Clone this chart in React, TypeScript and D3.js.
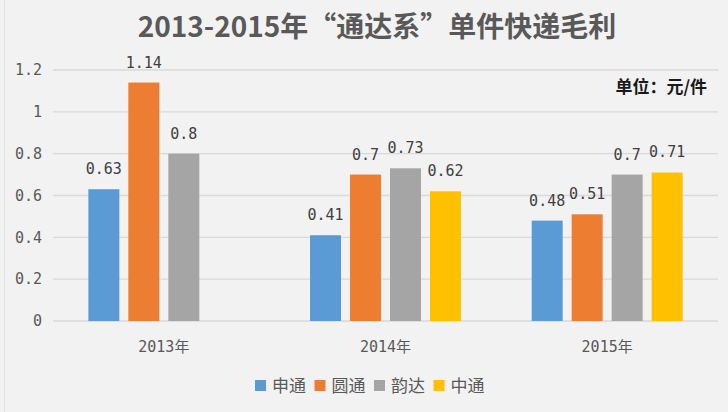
import React from "react";
import * as d3 from "d3";

const categories = ["2013年", "2014年", "2015年"];
const seriesNames = ["申通", "圆通", "韵达", "中通"];
const seriesColors = ["#5b9bd5", "#ed7d31", "#a5a5a5", "#ffc000"];
const shentong = [0.63, 0.41, 0.48];
const yuantong = [1.14, 0.7, 0.51];
const yunda = [0.8, 0.73, 0.7];
const zhongtong = [null, 0.62, 0.71];
const yTicks = [0, 0.2, 0.4, 0.6, 0.8, 1, 1.2];
const titleText = "2013-2015年“通达系”单件快递毛利";
const unitText = "单位：元/件";

const seriesValues = [shentong, yuantong, yunda, zhongtong];

const W = 728;
const H = 412;
const monoFont = "'DejaVu Sans Mono', 'Noto Sans CJK SC', monospace";
const cjkFont = "'Noto Sans CJK SC', 'Noto Sans', sans-serif";

export default function App() {
  const x0 = d3.scaleBand<string>().domain(categories).range([53, 718]).paddingInner(0).paddingOuter(0);
  const groupW = x0.bandwidth() * 0.681;
  const x1 = d3.scaleBand<string>().domain(seriesNames).range([-groupW / 2, groupW / 2]).paddingInner(0.225).paddingOuter(0);
  const y = d3.scaleLinear().domain([0, 1.2]).range([321, 70]);
  const fmt = (v: number) => String(v);

  return (
    <svg width={W} height={H} style={{ position: "absolute", left: 0, top: 0 }} xmlns="http://www.w3.org/2000/svg">
      <rect x={0} y={0} width={W} height={H} fill="#f2f2f2" />
      <line x1={4.5} x2={4.5} y1={0} y2={H} stroke="#e2e2e2" strokeWidth={1} />
      <text x={377} y={37} textAnchor="middle" fontFamily={cjkFont} fontWeight="bold" fontSize={28} fill="#595959">
        {titleText}
      </text>
      {yTicks.map((t) => (
        <g key={t}>
          <line x1={53} x2={718} y1={y(t)} y2={y(t)} stroke="#d9d9d9" strokeWidth={1.3} />
          <text x={42} y={y(t)} dy="0.35em" textAnchor="end" fontFamily={monoFont} fontSize={15} fill="#595959">
            {fmt(t)}
          </text>
        </g>
      ))}
      {categories.map((c, ci) => {
        const cx = (x0(c) as number) + x0.bandwidth() / 2;
        return (
          <g key={c}>
            {seriesNames.map((s, si) => {
              const v = seriesValues[si][ci];
              if (v === null || v === undefined) return null;
              const bx = cx + (x1(s) as number);
              return (
                <g key={s}>
                  <rect x={bx} y={y(v)} width={x1.bandwidth()} height={y(0) - y(v)} fill={seriesColors[si]} />
                  <text x={bx + x1.bandwidth() / 2} y={y(v) - 15} textAnchor="middle" fontFamily={monoFont} fontSize={15} fill="#404040">
                    {fmt(v)}
                  </text>
                </g>
              );
            })}
            <text x={cx} y={347} dy="0.35em" textAnchor="middle" fontFamily={monoFont} fontSize={15} fill="#595959">
              {c}
            </text>
          </g>
        );
      })}
      <text x={707} y={87} dy="0.35em" textAnchor="end" fontFamily={cjkFont} fontWeight="bold" fontSize={17} fill="#1a1a1a">
        {unitText}
      </text>
      {seriesNames.map((s, si) => {
        const lx = 255 + si * 59.5;
        return (
          <g key={s}>
            <rect x={lx} y={380} width={11} height={11} fill={seriesColors[si]} />
            <text x={lx + 17} y={386} dy="0.35em" fontFamily={cjkFont} fontSize={17} fill="#595959">
              {s}
            </text>
          </g>
        );
      })}
    </svg>
  );
}
